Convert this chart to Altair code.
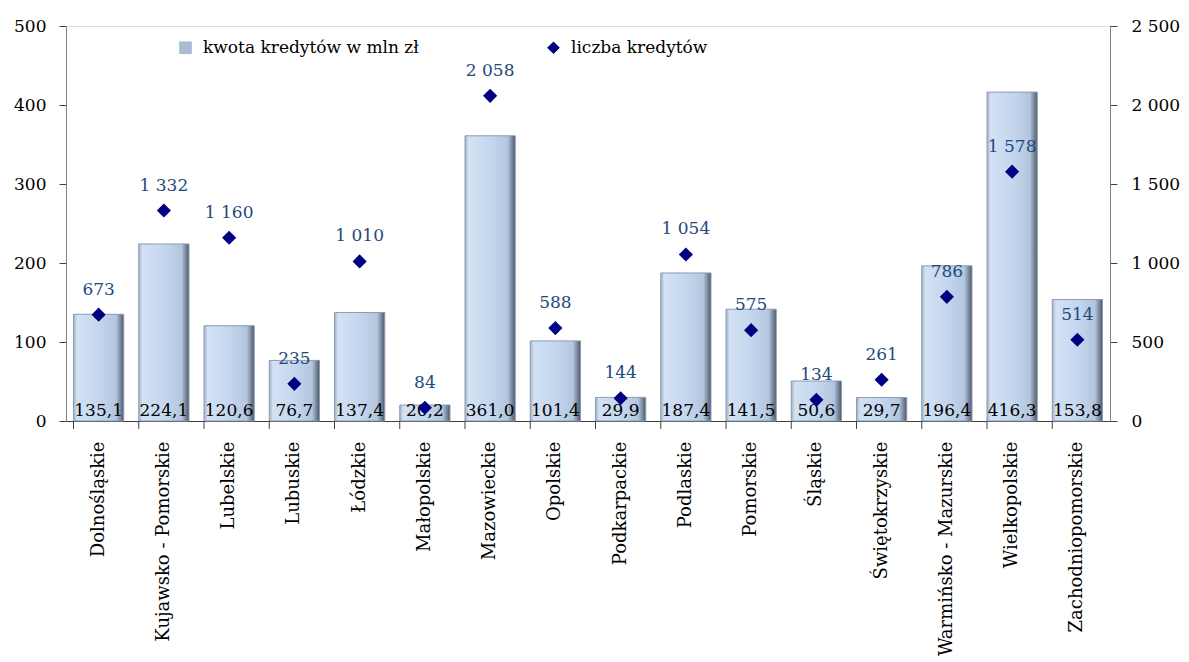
import altair as alt
import pandas as pd

regions = ["Dolnośląskie", "Kujawsko - Pomorskie", "Lubelskie", "Lubuskie", "Łódzkie",
           "Małopolskie", "Mazowieckie", "Opolskie", "Podkarpackie", "Podlaskie",
           "Pomorskie", "Śląskie", "Świętokrzyskie", "Warmińsko - Mazurskie",
           "Wielkopolskie", "Zachodniopomorskie"]
amounts = [135.1, 224.1, 120.6, 76.7, 137.4, 20.2, 361.0, 101.4, 29.9, 187.4,
           141.5, 50.6, 29.7, 196.4, 416.3, 153.8]
counts = [673, 1332, 1160, 235, 1010, 84, 2058, 588, 144, 1054, 575, 134, 261,
          786, 1578, 514]
series = ["kwota kredytów w mln zł", "liczba kredytów"]

df = pd.DataFrame({"region": regions, "amount": amounts, "count": counts})
df["amount_lbl"] = [f"{v:.1f}".replace(".", ",") for v in amounts]
df["count_lbl"] = [f"{v:,}".replace(",", " ") for v in counts]
df["series"] = series[1]

FONT = "DejaVu Serif"
W, H = 1044, 395

x = alt.X("region:N", sort=regions, title=None,
          scale=alt.Scale(paddingInner=0.23, paddingOuter=0.115),
          axis=alt.Axis(labelAngle=-90, labelFontSize=18, labelFont=FONT,
                        labelColor="black", ticks=False, domainColor="#404040",
                        labelPadding=20, labelLimit=400))

yl = alt.Y("amount:Q", title=None,
           scale=alt.Scale(domain=[0, 500], nice=False),
           axis=alt.Axis(values=[0, 100, 200, 300, 400, 500], grid=False,
                         labelFontSize=17, labelFont=FONT, labelColor="black",
                         tickSize=7, tickColor="#404040", domainColor="#808080",
                         labelPadding=13))

grad = alt.Gradient(gradient="linear", x1=0, x2=1, y1=0, y2=0, stops=[
    alt.GradientStop(offset=0, color="#9fb0c7"),
    alt.GradientStop(offset=0.07, color="#d3e1f3"),
    alt.GradientStop(offset=0.5, color="#c4d7ef"),
    alt.GradientStop(offset=0.85, color="#b3c6de"),
    alt.GradientStop(offset=0.95, color="#6f7d90"),
    alt.GradientStop(offset=1, color="#4b5667"),
])

bars = alt.Chart(df).mark_bar(fill=grad, stroke="#8c9bb0", strokeWidth=1).encode(
    x=x, y=yl)

bar_text = alt.Chart(df).mark_text(font=FONT, fontSize=17, color="black",
                                   baseline="alphabetic", dy=-5).encode(
    x=alt.X("region:N", sort=regions), y=alt.datum(0), text="amount_lbl:N")

xticks = alt.Chart(df).mark_rule(color="#404040").encode(
    x=alt.X("region:N", sort=regions, bandPosition=0),
    y=alt.value(H), y2=alt.value(H + 8))

left = alt.layer(bars, bar_text, xticks)

yr = alt.Y("count:Q", title=None,
           scale=alt.Scale(domain=[0, 2500], nice=False),
           axis=alt.Axis(orient="right", values=[0, 500, 1000, 1500, 2000, 2500],
                         grid=False, labelFontSize=17, labelFont=FONT,
                         labelColor="black", tickSize=7, tickColor="#404040",
                         domainColor="#808080", labelPadding=14,
                         labelExpr="replace(format(datum.value, ','), ',', ' ')"))

points = alt.Chart(df).mark_point(filled=True, size=200, opacity=1).encode(
    x=alt.X("region:N", sort=regions),
    y=yr,
    color=alt.Color("series:N", scale=alt.Scale(domain=series, range=["#a9bbd3", "#000080"]),
                    legend=alt.Legend(title=None, orient="none", legendX=111, legendY=13,
                                      direction="horizontal", labelFont=FONT,
                                      labelFontSize=17, labelColor="black",
                                      symbolSize=160, columnPadding=126,
                                      labelOffset=9, symbolStrokeWidth=0,
                                      labelLimit=400)),
    shape=alt.Shape("series:N", scale=alt.Scale(domain=series, range=["square", "diamond"]),
                    legend=None),
)

point_text = alt.Chart(df).mark_text(font=FONT, fontSize=17, color="#1f497d",
                                     baseline="alphabetic", dy=-20).encode(
    x=alt.X("region:N", sort=regions),
    y=yr,
    text="count_lbl:N")

right = alt.layer(points, point_text)

chart = alt.layer(left, right).resolve_scale(y="independent").properties(
    width=W, height=H,
    padding={"left": 5, "top": 9, "right": 0, "bottom": 5},
).configure_view(stroke=None).configure(background="white")

chart.save("out.html", embed_options={"renderer": "svg", "actions": False})
